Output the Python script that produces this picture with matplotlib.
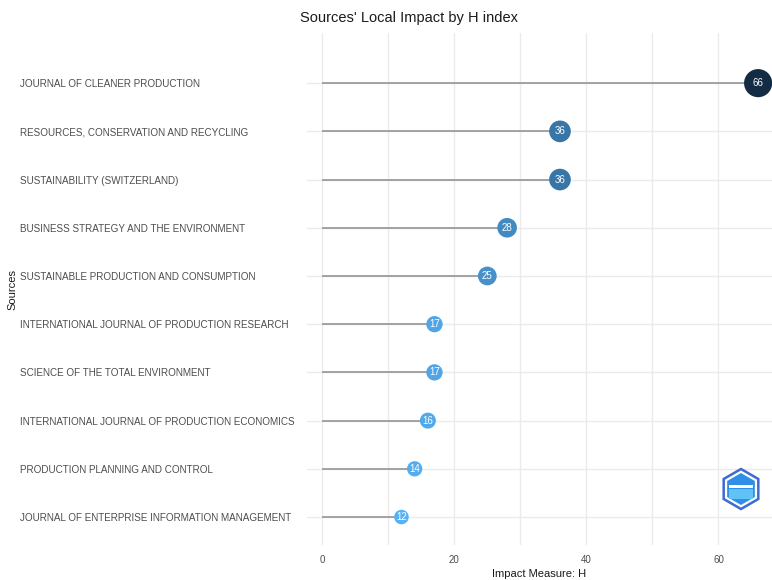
import numpy as np
import matplotlib.pyplot as plt
from matplotlib.colors import LinearSegmentedColormap, Normalize
from matplotlib.patches import RegularPolygon, Rectangle
from matplotlib.transforms import IdentityTransform

plt.rcParams['font.family'] = ['Liberation Sans', 'DejaVu Sans']

sources = [
    "JOURNAL OF CLEANER PRODUCTION",
    "RESOURCES, CONSERVATION AND RECYCLING",
    "SUSTAINABILITY (SWITZERLAND)",
    "BUSINESS STRATEGY AND THE ENVIRONMENT",
    "SUSTAINABLE PRODUCTION AND CONSUMPTION",
    "INTERNATIONAL JOURNAL OF PRODUCTION RESEARCH",
    "SCIENCE OF THE TOTAL ENVIRONMENT",
    "INTERNATIONAL JOURNAL OF PRODUCTION ECONOMICS",
    "PRODUCTION PLANNING AND CONTROL",
    "JOURNAL OF ENTERPRISE INFORMATION MANAGEMENT",
]
h_index = [66, 36, 36, 28, 25, 17, 17, 16, 14, 12]

W, H = 772, 580
fig = plt.figure(figsize=(W / 100, H / 100), dpi=100)
ax = fig.add_axes([307 / W, 1 - 545 / H, 1 - 307 / W, (545 - 33) / H])

n = len(sources)
ypos = np.arange(n, 0, -1)
vals = np.array(h_index)

cmap = LinearSegmentedColormap.from_list("gg", ["#56B1F7", "#132B43"])
norm = Normalize(vals.min(), vals.max())
sizes = 110 + (vals - vals.min()) * 300 / (vals.max() - vals.min())

# grid
for gx in range(0, 70, 10):
    ax.axvline(gx, color="#ebebeb", lw=1, zorder=0)
for gy in ypos:
    ax.axhline(gy, color="#ebebeb", lw=1, zorder=0)

ax.hlines(ypos, 0, vals, color="#8c8c8c", lw=1.1, zorder=1)
ax.scatter(vals, ypos, s=sizes, c=cmap(norm(vals)), zorder=2, linewidths=0)
for v, y in zip(vals, ypos):
    ax.text(v, y, str(v), color="white", fontsize=7, ha="center", va="center", zorder=3)

ax.set_xlim(-2.3, 68.1)
ax.set_ylim(0.42, 11.04)
ax.set_xticks([0, 20, 40, 60])
ax.set_yticks(ypos)
ax.set_yticklabels(sources, ha="left")
ax.tick_params(axis="y", length=0, pad=(307 - 20) * 0.72, labelsize=7.15, labelcolor="#4d4d4d")
ax.tick_params(axis="x", length=0, pad=7, labelsize=7, labelcolor="#4d4d4d")
for s in ax.spines.values():
    s.set_visible(False)

ax.set_xlabel("Impact Measure: H", fontsize=8, color="#1a1a1a", labelpad=3)
fig.text(12 / W, 1 - 290 / H, "Sources", rotation=90, fontsize=8, color="#1a1a1a",
         ha="center", va="center")
fig.text(409 / W, 1 - 18 / H, "Sources' Local Impact by H index", fontsize=10.5,
         color="#1a1a1a", ha="center", va="center")

# logo (pixel coordinates)
lx, ly = 741, H - 489
fig.add_artist(RegularPolygon((lx, ly), 6, radius=20, orientation=0,
                              transform=IdentityTransform(), facecolor="white",
                              edgecolor="#3d6bd3", lw=1.8))
fig.add_artist(RegularPolygon((lx, ly), 6, radius=16, orientation=0,
                              transform=IdentityTransform(), facecolor="#2f8fe6",
                              edgecolor="none"))
fig.add_artist(Rectangle((lx - 12, ly - 10), 24, 10, transform=IdentityTransform(),
                         facecolor="#5fc3f5", edgecolor="none"))
fig.add_artist(Rectangle((lx - 12, ly + 1), 24, 3, transform=IdentityTransform(),
                         facecolor="white", edgecolor="none"))

fig.savefig("out.png", dpi=100)
